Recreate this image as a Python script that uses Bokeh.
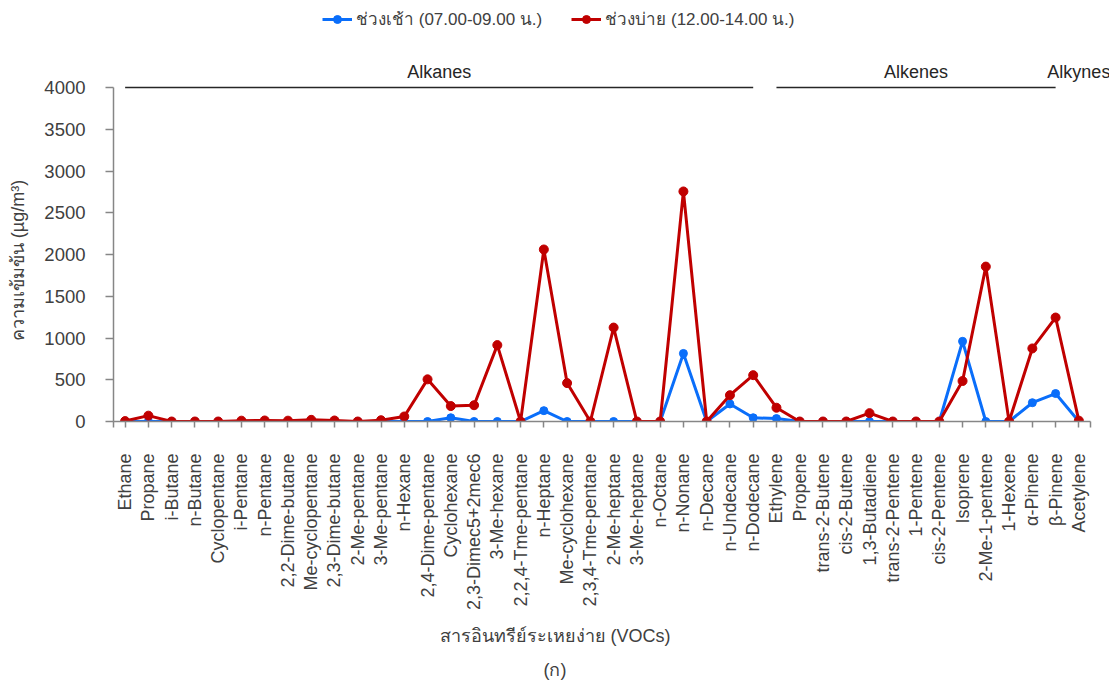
from bokeh.plotting import figure
from bokeh.models import (Range1d, FixedTicker, Legend, LegendItem, LinearAxis,
                          ColumnDataSource)
from bokeh.core.properties import value
from bokeh.embed import file_html
from bokeh.resources import INLINE
import math

# VOC species along the x axis
species = [
    "Ethane", "Propane", "i-Butane", "n-Butane", "Cyclopentane", "i-Pentane",
    "n-Pentane", "2,2-Dime-butane", "Me-cyclopentane", "2,3-Dime-butane",
    "2-Me-pentane", "3-Me-pentane", "n-Hexane", "2,4-Dime-pentane",
    "Cyclohexane", "2,3-Dimec5+2mec6", "3-Me-hexane", "2,2,4-Tme-pentane",
    "n-Heptane", "Me-cyclohexane", "2,3,4-Tme-pentane", "2-Me-heptane",
    "3-Me-heptane", "n-Octane", "n-Nonane", "n-Decane", "n-Undecane",
    "n-Dodecane", "Ethylene", "Propene", "trans-2-Butene", "cis-2-Butene",
    "1,3-Butadiene", "trans-2-Pentene", "1-Pentene", "cis-2-Pentene",
    "Isoprene", "2-Me-1-pentene", "1-Hexene", "α-Pinene", "β-Pinene",
    "Acetylene",
]

# Concentrations (µg/m3), morning 07.00-09.00
morning = [
    0, 0, 0, 0, 0, 0, 0, 0, 0, 0, 0, 0, 0, 0,
    45, 0, 0, 0, 130, 0, 0, 0, 0, 0, 815, 0, 210, 45,
    35, 0, 0, 0, 0, 0, 0, 0, 960, 0, 0, 225, 335,
    0,
]

# Concentrations (µg/m3), afternoon 12.00-14.00
afternoon = [
    5, 70, 0, 0, 0, 10, 12, 10, 20, 12, 0, 15, 60, 505,
    185, 195, 915, 0, 2060, 460, 0, 1125, 0, 0, 2755, 0, 315, 555,
    165, 0, 0, 0, 100, 0, 0, 0, 485, 1855, 0, 875, 1245,
    10,
]

# Compound groups: (name, number of species in the group)
groups = [("Alkanes", 28), ("Alkenes", 13), ("Alkynes", 1)]

y_ticks = [0, 500, 1000, 1500, 2000, 2500, 3000, 3500, 4000]

series_labels = ["ช่วงเช้า (07.00-09.00 น.)", "ช่วงบ่าย (12.00-14.00 น.)"]
x_title = "สารอินทรีย์ระเหยง่าย (VOCs)"
sub_title = "(ก)"
y_title = "ความเข้มข้น (µg/m³)"

FONT = "Liberation Sans"
TEXT = "#404040"
DARK = "#262626"
AXIS = "#868686"
BLUE = "#0A6EFA"
RED = "#C00000"

# page geometry (pixels)
W, H = 1109, 682
LEFT = 113          # left edge of the x axis
AXIS_RIGHT = 1090   # right end of the x axis
Y0, Y4000 = 421, 87  # page rows of 0 and 4000 on the value axis

n = len(species)
step = (AXIS_RIGHT - LEFT) / n            # pixels per category
x_end = n + 0.5 + (W - AXIS_RIGHT) / step  # frame runs to the page's right edge
y_end = y_ticks[-1] * Y0 / (Y0 - Y4000)    # frame runs to the page's top edge

xs = list(range(1, n + 1))

p = figure(width=W, height=H,
           x_range=Range1d(0.5, x_end), y_range=Range1d(0, y_end),
           output_backend="svg", toolbar_location=None,
           min_border_left=LEFT, min_border_right=0,
           min_border_top=0, min_border_bottom=H - Y0)
p.outline_line_color = None
p.xgrid.visible = False
p.ygrid.visible = False
p.background_fill_color = "white"
p.border_fill_color = "white"

# main axes (taken before any extra axis is added)
xa = p.xaxis[0]
ya = p.yaxis[0]

# ranges in page pixels, for titles placed on the page
p.extra_x_ranges = {"page": Range1d(LEFT, W)}
p.extra_y_ranges = {"pagey": Range1d(Y0, 0)}

src = ColumnDataSource(dict(x=xs, am=morning, pm=afternoon))

bl = p.line("x", "am", source=src, line_color=BLUE, line_width=3)
bs = p.scatter("x", "am", source=src, size=8, fill_color=BLUE, line_color=BLUE)
rl = p.line("x", "pm", source=src, line_color=RED, line_width=3)
rs = p.scatter("x", "pm", source=src, size=9, fill_color=RED, line_color=RED)

# group brackets and names along the 4000 line
starts, ends, centers, names = [], [], [], []
pos = 1
for name, cnt in groups:
    starts.append(pos)
    ends.append(pos + cnt - 1)
    centers.append(pos + (cnt - 1) / 2)
    names.append(name)
    pos += cnt
top = y_ticks[-1]
p.segment(x0=starts, y0=[top] * len(starts), x1=ends, y1=[top] * len(ends),
          line_color=DARK, line_width=1.5)
p.text(x=centers, y=[top] * len(centers), text=names, y_offset=-16,
       text_align="center", text_baseline="middle",
       text_font=value(FONT), text_font_size="18px", text_color=DARK)

# y axis
ya.ticker = FixedTicker(ticks=y_ticks)
ya.bounds = (0, y_ticks[-1])
ya.axis_line_color = AXIS
ya.axis_line_width = 1.5
ya.major_tick_line_color = AXIS
ya.major_tick_line_width = 1.5
ya.major_tick_in = 0
ya.major_tick_out = 8
ya.minor_tick_line_color = None
ya.major_label_standoff = 20
ya.major_label_text_font = FONT
ya.major_label_text_font_size = "18.5px"
ya.major_label_text_color = TEXT

# x axis
xa.ticker = FixedTicker(ticks=xs, minor_ticks=[0.5, n + 0.5])
xa.bounds = (0.5, n + 0.5)
xa.major_label_overrides = {x: s for x, s in zip(xs, species)}
xa.major_label_orientation = math.pi / 2
xa.axis_line_color = AXIS
xa.axis_line_width = 1.5
xa.major_tick_line_color = AXIS
xa.major_tick_line_width = 1.5
xa.major_tick_in = 0
xa.major_tick_out = 6
xa.minor_tick_line_color = AXIS
xa.minor_tick_line_width = 1.5
xa.minor_tick_in = 0
xa.minor_tick_out = 6
xa.major_label_standoff = 26
xa.major_label_text_font = FONT
xa.major_label_text_font_size = "18px"
xa.major_label_text_color = TEXT


def text_axis(ticks, labels, standoff, x_name=None, y_name=None,
              orientation="horizontal"):
    ax = LinearAxis(ticker=FixedTicker(ticks=ticks),
                    major_label_overrides=dict(zip(ticks, labels)),
                    major_label_orientation=orientation,
                    axis_line_color=None, major_tick_line_color=None,
                    minor_tick_line_color=None, major_label_standoff=standoff,
                    major_label_text_font=FONT, major_label_text_font_size="18px",
                    major_label_text_color=TEXT)
    if x_name:
        ax.x_range_name = x_name
    if y_name:
        ax.y_range_name = y_name
    return ax


# value-axis title, centred on the 0-4000 span
p.add_layout(text_axis([(Y0 + Y4000) / 2 + 6], [y_title], 8, y_name="pagey",
                       orientation="vertical"), "left")

# titles under the x axis, centred on the page
mid = W / 2
p.add_layout(text_axis([mid], [x_title], 6, x_name="page"), "below")
p.add_layout(text_axis([mid], [sub_title], 5, x_name="page"), "below")

legend = Legend(items=[LegendItem(label=series_labels[0], renderers=[bl, bs]),
                       LegendItem(label=series_labels[1], renderers=[rl, rs])],
                orientation="horizontal", location=(322 - LEFT, Y0 - 32),
                padding=0, margin=0, spacing=29, label_standoff=4,
                glyph_width=30, glyph_height=20, label_height=20,
                label_text_font=FONT, label_text_font_size="17px",
                label_text_color=TEXT, border_line_color=None,
                background_fill_alpha=0)
p.add_layout(legend)

open("out.html", "w").write(file_html(p, INLINE))
